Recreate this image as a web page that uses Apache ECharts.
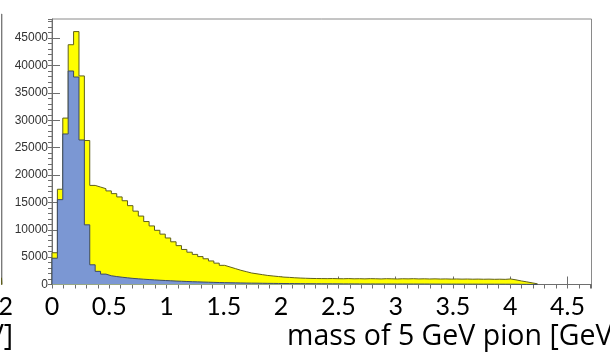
<!DOCTYPE html>
<html>
<head>
<meta charset="utf-8">
<script src="https://cdn.jsdelivr.net/npm/echarts@6/dist/echarts.min.js"></script>
<style>
  html, body { margin: 0; padding: 0; background: #fff; }
  #chart { width: 610px; height: 362px; }
</style>
</head>
<body>
<div id="chart"></div>
<script>
// Invariant mass histogram: 100 bins from 0 to X_MAX GeV
const X_MAX = 4.71;
const N_BINS = 100;

// all pion pairs (yellow), counts per bin
const totalCounts = [
  5800, 17400, 30400, 43800, 46200, 38100, 26300, 18100, 17800, 17500,
  17100, 16600, 16000, 15300, 14400, 13400, 12500, 11500, 10700, 9900,
  9200, 8500, 7800, 7100, 6400, 5900, 5500, 5100, 4700, 4300,
  3900, 3500, 3200, 2900, 2600, 2350, 2100, 1950, 1800, 1650,
  1550, 1450, 1350, 1300, 1230, 1180, 1140, 1110, 1090, 1080,
  1070, 1090, 1060, 1050, 1080, 1040, 1060, 1030, 1070, 1050,
  1020, 1060, 1040, 1010, 1050, 1030, 1060, 1020, 1040, 1010,
  1030, 1000, 1020, 990, 1010, 980, 1000, 970, 990, 960,
  980, 950, 970, 940, 1010, 850, 650, 480, 300, 120,
  0, 0, 0, 0, 0, 0, 0, 0, 0, 0
];

// selected subset (blue), counts per bin
const selectedCounts = [
  4800, 15500, 27500, 39000, 37900, 26400, 10900, 3600, 2400, 1900,
  1600, 1450, 1330, 1220, 1120, 1040, 970, 900, 840, 780,
  730, 680, 630, 590, 550, 510, 480, 450, 420, 390,
  360, 340, 320, 300, 285, 265, 250, 240, 225, 210,
  200, 190, 182, 172, 163, 155, 148, 141, 136, 130,
  126, 121, 118, 114, 112, 109, 106, 104, 101, 99,
  97, 95, 93, 91, 90, 88, 86, 84, 83, 81,
  79, 77, 75, 74, 72, 70, 68, 66, 64, 62,
  60, 58, 56, 54, 52, 46, 36, 26, 16, 6,
  0, 0, 0, 0, 0, 0, 0, 0, 0, 0
];

// last sliver of the neighbouring panel on the left
const leftPanelEdges = [1.99, 2.0];
const leftPanelCounts = [1190];

const xTicks = { min: 0, max: X_MAX, major: 0.5, minor: 0.1 };
const yTicks = { min: 0, max: 48500, major: 5000, minor: 1000 };

const xTitle = 'mass of 5 GeV pion [GeV]';
const leftTitleTail = '[GeV]';

// Turn bin contents into an outline that steps at each bin edge
function stepPoints(counts, x0, width) {
  let last = counts.length - 1;
  while (last > 0 && counts[last] === 0) last--;
  const pts = [[x0, 0]];
  for (let i = 0; i <= last; i++) pts.push([x0 + i * width, counts[i]]);
  pts.push([x0 + (last + 1) * width, counts[last]]);
  pts.push([x0 + (last + 1) * width, 0]);
  return pts;
}

const binWidth = X_MAX / N_BINS;
const labelFont = 'Lato, "Open Sans", sans-serif';
const titleFont = '"Open Sans", Lato, sans-serif';

const chart = echarts.init(document.getElementById('chart'), null, { renderer: 'canvas' });

const tickCol = '#6e6e6e';

chart.setOption({
  animation: false,
  backgroundColor: '#ffffff',
  grid: [
    { left: 52, right: 18.5, top: 19, bottom: 77.5, show: true,
      borderColor: '#8a8a8a', borderWidth: 1, backgroundColor: 'transparent' },
    { left: 0, width: 1.5, top: 14, bottom: 77.5, show: true,
      borderColor: '#7a7a7a', borderWidth: 1, backgroundColor: 'transparent' }
  ],
  xAxis: [
    { type: 'value', gridIndex: 0, min: xTicks.min, max: xTicks.max, interval: xTicks.major,
      axisLine: { show: true, lineStyle: { color: tickCol, width: 1 } },
      axisTick: { show: true, inside: true, length: 8, lineStyle: { color: tickCol } },
      axisLabel: { show: true, showMaxLabel: false, margin: 10, color: '#000',
        fontSize: 25, fontFamily: labelFont,
        formatter: v => String(+v.toFixed(2)) },
      splitLine: { show: false } },
    { type: 'value', gridIndex: 0, min: xTicks.min, max: xTicks.max, interval: xTicks.minor,
      axisLine: { show: false },
      axisTick: { show: true, inside: true, length: 4, lineStyle: { color: tickCol } },
      axisLabel: { show: false }, splitLine: { show: false } },
    { type: 'value', gridIndex: 1, min: leftPanelEdges[0], max: leftPanelEdges[1], interval: 0.01,
      axisLine: { show: false }, axisTick: { show: false },
      axisLabel: { show: true, showMinLabel: false, margin: 10, color: '#000',
        fontSize: 25, fontFamily: labelFont, padding: [0, 0, 0, 8],
        formatter: v => String(+v.toFixed(2)) },
      splitLine: { show: false } }
  ],
  yAxis: [
    { type: 'value', gridIndex: 0, min: yTicks.min, max: yTicks.max, interval: yTicks.major,
      axisLine: { show: true, lineStyle: { color: tickCol, width: 1 } },
      axisTick: { show: true, inside: true, length: 8, lineStyle: { color: tickCol } },
      axisLabel: { show: true, showMaxLabel: false, margin: 4, color: '#333',
        fontSize: 12, fontFamily: '"Liberation Sans", Arial, sans-serif',
        formatter: v => String(v) },
      splitLine: { show: false } },
    { type: 'value', gridIndex: 0, min: yTicks.min, max: yTicks.max, interval: yTicks.minor,
      axisLine: { show: false },
      axisTick: { show: true, inside: true, length: 4, lineStyle: { color: tickCol } },
      axisLabel: { show: false }, splitLine: { show: false } },
    { type: 'value', gridIndex: 1, min: yTicks.min, max: yTicks.max, show: false }
  ],
  series: [
    { name: 'all', type: 'line', xAxisIndex: 0, yAxisIndex: 0, step: 'end',
      symbol: 'none', z: 2,
      lineStyle: { color: '#5f5f1c', width: 1 },
      areaStyle: { color: '#ffff00', opacity: 1 },
      data: stepPoints(totalCounts, 0, binWidth) },
    { name: 'selected', type: 'line', xAxisIndex: 0, yAxisIndex: 0, step: 'end',
      symbol: 'none', z: 3,
      lineStyle: { color: '#3d4a66', width: 1 },
      areaStyle: { color: '#7b97d3', opacity: 1 },
      data: stepPoints(selectedCounts, 0, binWidth) },
    { name: 'left', type: 'line', xAxisIndex: 2, yAxisIndex: 2, step: 'end',
      symbol: 'none', z: 2,
      lineStyle: { color: '#5f5f1c', width: 1 },
      areaStyle: { color: '#ffff00', opacity: 1 },
      data: stepPoints(leftPanelCounts, leftPanelEdges[0], leftPanelEdges[1] - leftPanelEdges[0]) }
  ],
  graphic: [
    { type: 'text', left: 287, top: 322,
      style: { text: xTitle, font: '28.5px ' + titleFont, fill: '#000' } },
    { type: 'text', x: 13, y: 322,
      style: { text: leftTitleTail, font: '28.5px ' + titleFont, fill: '#000', textAlign: 'right' } }
  ]
});
</script>
</body>
</html>
